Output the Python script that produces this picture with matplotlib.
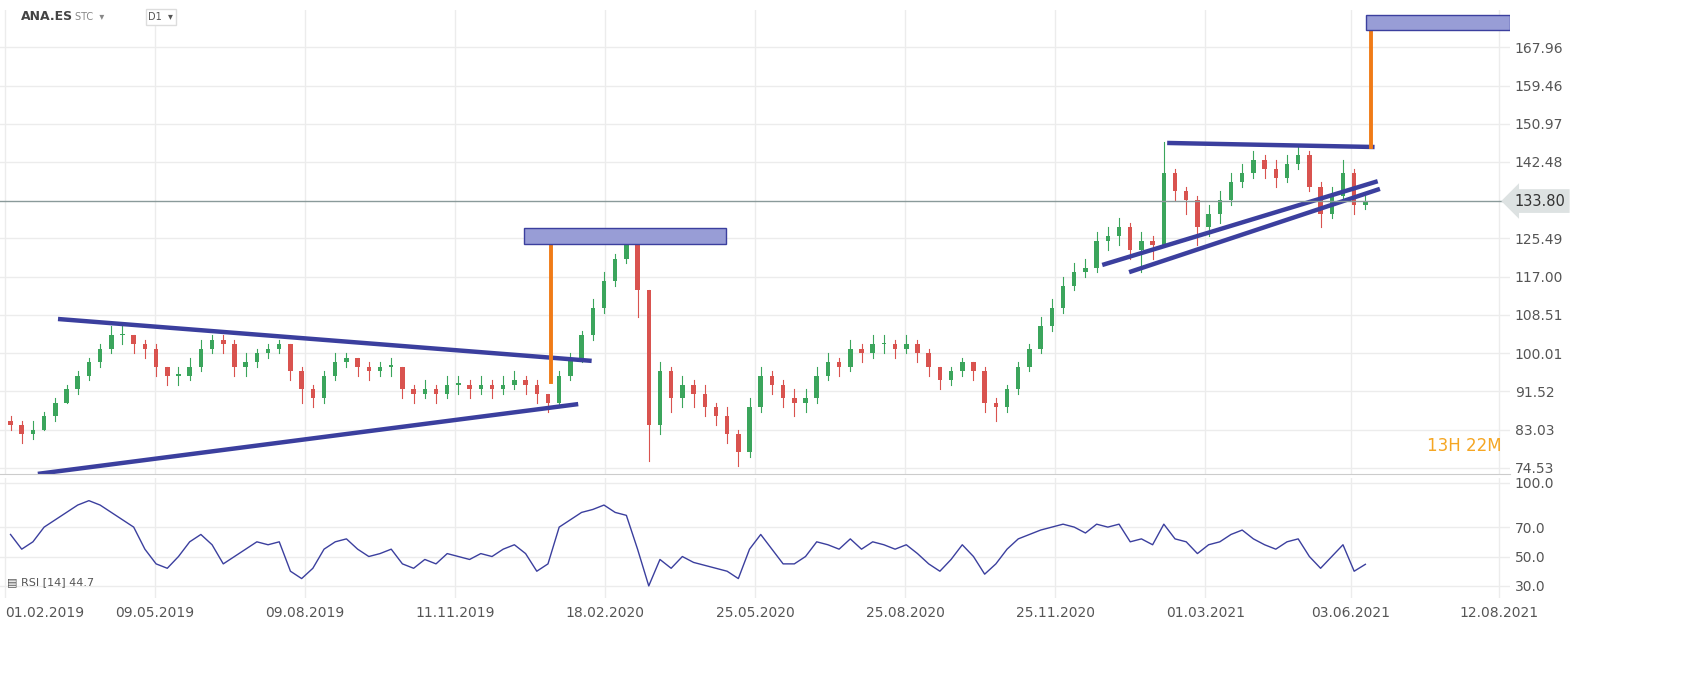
import matplotlib.pyplot as plt
import numpy as np

# weekly closes (5 trading days per bar), Feb 2019 - Jun 2021
closes = [84, 82, 83, 86, 89, 92, 95, 98, 101, 104,
          104, 102, 101, 97, 95, 95, 97, 101, 103, 102,
          97, 98, 100, 101, 102, 96, 92, 90, 95, 98,
          99, 97, 96, 97, 97, 92, 91, 92, 91, 93,
          93, 92, 93, 92, 93, 94, 93, 91, 89, 95,
          99, 104, 110, 116, 121, 124, 114, 84, 96, 90,
          93, 91, 88, 86, 82, 78, 88, 95, 93, 90,
          89, 90, 95, 98, 97, 101, 100, 102, 102, 101,
          102, 100, 97, 94, 96, 98, 96, 89, 88, 92,
          97, 101, 106, 110, 115, 118, 119, 125, 126, 128,
          123, 125, 124, 140, 136, 134, 128, 131, 134, 138,
          140, 143, 141, 139, 142, 144, 137, 131, 135, 140, 133, 133.8]
highs = [86, 85, 85, 87, 90, 93, 96, 99, 102, 106,
         106, 104, 103, 102, 97, 97, 99, 103, 104, 104,
         103, 100, 101, 102, 103, 102, 97, 93, 96, 100,
         100, 99, 98, 98, 99, 97, 93, 94, 93, 95,
         95, 94, 95, 94, 95, 96, 95, 94, 91, 96,
         100, 105, 112, 118, 122, 126, 124, 114, 98, 97,
         95, 94, 93, 89, 88, 83, 90, 97, 96, 94,
         92, 92, 97, 100, 99, 103, 102, 104, 104, 103,
         104, 103, 101, 97, 97, 99, 98, 97, 90, 93,
         98, 102, 108, 112, 117, 120, 121, 127, 128, 130,
         129, 127, 126, 147, 141, 137, 135, 133, 136, 140,
         142, 145, 144, 143, 144, 146, 145, 138, 137, 143, 141, 135]
lows = [83, 80, 81, 83, 85, 89, 91, 94, 97, 100,
        102, 100, 99, 95, 93, 93, 94, 96, 100, 100,
        95, 95, 97, 99, 100, 94, 89, 88, 89, 94,
        97, 95, 94, 95, 95, 90, 89, 90, 89, 90,
        91, 90, 91, 90, 91, 92, 91, 89, 87, 88,
        94, 98, 103, 109, 115, 120, 108, 76, 82, 87,
        88, 88, 86, 84, 80, 75, 77, 87, 91, 88,
        86, 87, 89, 94, 95, 96, 98, 99, 100, 99,
        100, 98, 95, 92, 93, 95, 94, 87, 85, 87,
        91, 96, 100, 105, 109, 114, 117, 118, 123, 124,
        121, 118, 121, 124, 134, 131, 124, 126, 129, 133,
        137, 139, 139, 137, 138, 141, 136, 128, 130, 134, 131, 132]
opens = [85] + closes[:-1]

rsi = [65, 55, 60, 70, 75, 80, 85, 88, 85, 80, 75, 70, 55, 45, 42, 50, 60, 65, 58, 45,
       50, 55, 60, 58, 60, 40, 35, 42, 55, 60, 62, 55, 50, 52, 55, 45, 42, 48, 45, 52,
       50, 48, 52, 50, 55, 58, 52, 40, 45, 70, 75, 80, 82, 85, 80, 78, 55, 30, 48, 42,
       50, 46, 44, 42, 40, 35, 55, 65, 55, 45, 45, 50, 60, 58, 55, 62, 55, 60, 58, 55,
       58, 52, 45, 40, 48, 58, 50, 38, 45, 55, 62, 65, 68, 70, 72, 70, 66, 72, 70, 72,
       60, 62, 58, 72, 62, 60, 52, 58, 60, 65, 68, 62, 58, 55, 60, 62, 50, 42, 50, 58,
       40, 44.7]

price_ticks = [74.53, 83.03, 91.52, 100.01, 108.51, 117.00, 125.49, 142.48, 150.97, 159.46, 167.96]
rsi_ticks = [30.0, 50.0, 70.0, 100.0]
date_pos = [0, 67, 134, 201, 268, 335, 402, 469, 536, 601, 667]
date_labels = ["01.02.2019", "09.05.2019", "09.08.2019", "11.11.2019", "18.02.2020",
               "25.05.2020", "25.08.2020", "25.11.2020", "01.03.2021", "03.06.2021", "12.08.2021"]
last_price = 133.80

# drawn annotations: (day, price) pairs
trend_lines = [((23.7, 107.6), (262, 98.3)), ((14.7, 73.2), (256, 88.7)),
               ((519, 146.7), (611.6, 145.8)), ((490, 119.6), (613, 138.2)),
               ((502, 118.0), (614, 136.5))]
targets = [((244, 93.6), (244, 124.3)), ((610, 145.8), (610, 171.8))]
boxes = [(232, 322, 124.3, 127.8), (608, 672, 171.8, 175.1)]

fig = plt.figure(figsize=(17.06, 6.76), dpi=100)
ax = fig.add_axes([0, 0.299, 0.885, 0.686])
ax2 = fig.add_axes([0, 0.1154, 0.885, 0.1775], sharex=ax)

x = np.arange(len(closes)) * 5 + 2.5
green, red = "#3ba55c", "#d9534f"
for xi, o, h, l, c in zip(x, opens, highs, lows, closes):
    col = green if c >= o else red
    ax.plot([xi, xi], [l, h], color=col, lw=0.8)
    ax.bar(xi, max(abs(c - o), 0.3), 2.0, bottom=min(o, c), color=col)

for (a, b) in trend_lines:
    ax.plot([a[0], b[0]], [a[1], b[1]], color="#3b3f9e", lw=3.2, solid_capstyle="butt")
for (a, b) in targets:
    ax.plot([a[0], b[0]], [a[1], b[1]], color="#f07b17", lw=2.8)
for (x0, x1, y0, y1) in boxes:
    ax.add_patch(plt.Rectangle((x0, y0), x1 - x0, y1 - y0, facecolor="#989dd6",
                               edgecolor="#3b3f9e", lw=1, zorder=5))
ax.axhline(last_price, color="#8a9a9a", lw=1)

xr = np.arange(len(rsi)) * 5 + 2.5
ax2.plot(xr, rsi, color="#3b3f9e", lw=1)

for a in (ax, ax2):
    a.set_facecolor("white")
    a.grid(True, color="#ececec", lw=1)
    a.set_axisbelow(True)
    a.yaxis.tick_right()
    a.tick_params(length=0, labelsize=10, colors="#555555")
    for s in a.spines.values():
        s.set_visible(False)
ax.spines["bottom"].set_visible(True)
ax.spines["bottom"].set_color("#cccccc")

ax.set_xlim(-2.2, 672)
ax.set_ylim(73.2, 176.2)
ax.set_yticks(price_ticks)
ax.set_yticklabels([f"{t:.2f}" for t in price_ticks])
ax.tick_params(axis="x", labelbottom=False)
ax2.set_ylim(21.8, 103.4)
ax2.set_yticks(rsi_ticks)
ax2.set_yticklabels([f"{t:.1f}" for t in rsi_ticks])
ax2.set_xticks(date_pos)
ax2.set_xticklabels(date_labels)
ax2.tick_params(axis="x", pad=6)
for lbl in ax2.get_xticklabels()[:1]:
    lbl.set_horizontalalignment("left")

ax.text(1.003, (last_price - 73.2) / (176.2 - 73.2), f"{last_price:.2f}", transform=ax.transAxes,
        va="center", ha="left", fontsize=10.5, color="#333333",
        bbox=dict(boxstyle="larrow,pad=0.3", fc="#dde2e2", ec="none"))
ax.text(0.945, 0.05, "13H 22M", transform=ax.transAxes, color="#f5a623",
        fontsize=12, ha="left")
fig.text(0.012, 0.975, "ANA.ES", fontsize=9, fontweight="bold", color="#444444", va="center")
fig.text(0.044, 0.975, "STC  ▾", fontsize=7, color="#888888", va="center")
fig.text(0.087, 0.975, "D1  ▾", fontsize=7, color="#555555", va="center",
         bbox=dict(fc="white", ec="#dddddd", boxstyle="square,pad=0.3"))
fig.text(0.004, 0.135, "▤ RSI [14] 44.7", fontsize=8, color="#555555")

fig.savefig("out.png", dpi=100, facecolor="white")
